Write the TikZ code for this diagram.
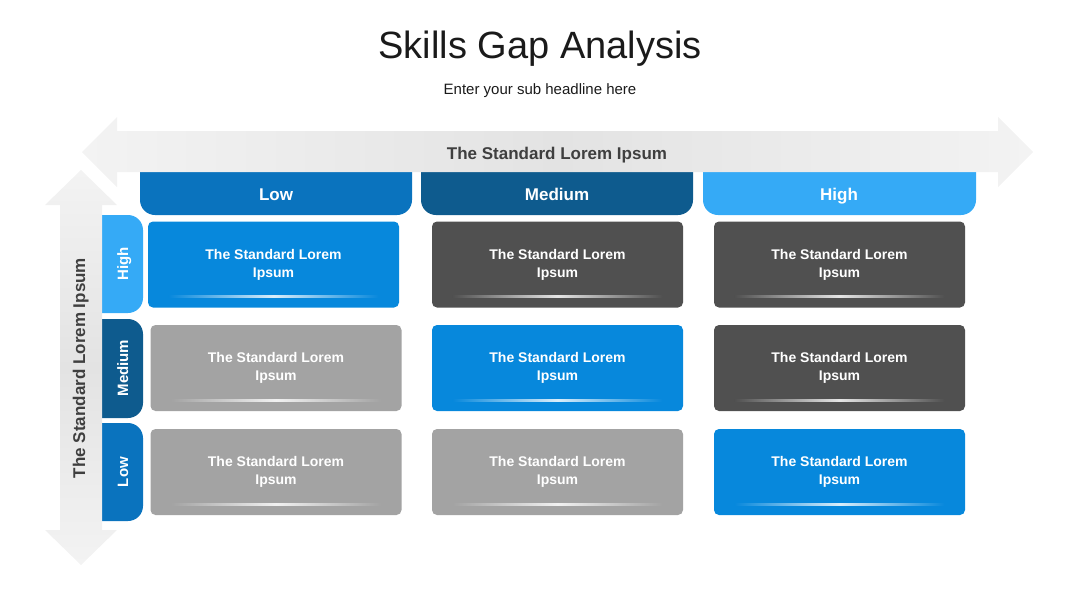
\documentclass[tikz,border=0pt]{standalone}
\usepackage{fontspec}
\setmainfont{Liberation Sans}
\usepackage{xcolor}
\usepackage{tikz}
\usetikzlibrary{shadings}

\definecolor{lowblue}{HTML}{0A73BE}
\definecolor{medblue}{HTML}{0E5B8E}
\definecolor{highblue}{HTML}{35AAF6}
\definecolor{cellblue}{HTML}{0788DC}
\definecolor{darkcell}{HTML}{505050}
\definecolor{lightcell}{HTML}{A3A3A3}
\definecolor{arrowlight}{HTML}{F3F3F3}
\definecolor{arrowdark}{HTML}{E3E3E3}
\definecolor{titlegray}{HTML}{1A1A1A}
\definecolor{axisgray}{HTML}{3F3F3F}

\begin{document}
\begin{tikzpicture}[
    x=1pt, y=-1pt,
    cell/.style={rounded corners=5pt, minimum width=251pt, minimum height=86pt, inner sep=0pt, align=center, text=white, font=\fontsize{14}{18}\selectfont\bfseries},
    hdr/.style={text=white, anchor=base, font=\fontsize{17}{20}\selectfont\bfseries},
    tab/.style={text=white, rotate=90, text height=11pt, text depth=3pt, font=\fontsize{15}{18}\selectfont\bfseries},
    axis/.style={text=axisgray, font=\fontsize{17}{20}\selectfont\bfseries},
]
\useasboundingbox (0,0) rectangle (1080,608);

% Title
\node[anchor=base, font=\fontsize{38}{44}\selectfont, text=titlegray] (title) at (540,58) {Skills Gap Analysis};
\node[anchor=base, font=\fontsize{15}{18}\selectfont, text=titlegray] (subtitle) at (540,94) {Enter your sub headline here};

% Column headers (top hidden under the arrow)
\fill[lowblue, rounded corners=15pt] (140,150) rectangle (412,215);
\fill[medblue, rounded corners=15pt] (421,150) rectangle (693,215);
\fill[highblue, rounded corners=15pt] (703,150) rectangle (976,215);

% Horizontal arrow
\shade[left color=arrowlight, right color=arrowlight, middle color=arrowdark]
    (82,152) -- (117,117) -- (117,131) -- (998,131) -- (998,117) -- (1033,152)
    -- (998,187) -- (998,172) -- (117,172) -- (117,187) -- cycle;

% Row tabs (left side hidden under the arrow)
\fill[highblue, rounded corners=15pt] (80,215) rectangle (143,313);
\fill[medblue, rounded corners=15pt] (80,319) rectangle (143,418);
\fill[lowblue, rounded corners=15pt] (80,423) rectangle (143,521);

% Vertical arrow
\shade[top color=arrowlight, bottom color=arrowlight, middle color=arrowdark]
    (81,170) -- (117,205) -- (102,205) -- (102,530) -- (117,530) -- (81,565)
    -- (45,530) -- (60,530) -- (60,205) -- (45,205) -- cycle;

% Axis labels
\node[axis, anchor=base] (xaxis) at (557,159) {The Standard Lorem Ipsum};
\node[axis, rotate=90, text height=12pt, text depth=4pt] (yaxis) at (81,368) {The Standard Lorem Ipsum};

% Header labels
\node[hdr] (hlow) at (276,200) {Low};
\node[hdr] (hmed) at (557,200) {Medium};
\node[hdr] (hhigh) at (839,200) {High};
\node[tab] (thigh) at (124,264) {High};
\node[tab] (tmed) at (124,368) {Medium};
\node[tab] (tlow) at (124,472) {Low};

% Grid cells
\node[cell, fill=cellblue] (c11) at (273.5,264.5) {The Standard Lorem\\Ipsum};
\node[cell, fill=darkcell] (c12) at (557.5,264.5) {The Standard Lorem\\Ipsum};
\node[cell, fill=darkcell] (c13) at (839.5,264.5) {The Standard Lorem\\Ipsum};
\node[cell, fill=lightcell] (c21) at (276,368) {The Standard Lorem\\Ipsum};
\node[cell, fill=cellblue] (c22) at (557.5,368) {The Standard Lorem\\Ipsum};
\node[cell, fill=darkcell] (c23) at (839.5,368) {The Standard Lorem\\Ipsum};
\node[cell, fill=lightcell] (c31) at (276,472) {The Standard Lorem\\Ipsum};
\node[cell, fill=lightcell] (c32) at (557.5,472) {The Standard Lorem\\Ipsum};
\node[cell, fill=cellblue] (c33) at (839.5,472) {The Standard Lorem\\Ipsum};

% Glow lines under the text
\foreach \n/\c in {c11/cellblue, c12/darkcell, c13/darkcell, c21/lightcell, c22/cellblue, c23/darkcell, c31/lightcell, c32/lightcell, c33/cellblue} {
    \shade[left color=\c, right color=\c, middle color=white!85!\c]
        ([xshift=-105pt, yshift=10pt]\n.south) rectangle ([xshift=105pt, yshift=12pt]\n.south);
}

\end{tikzpicture}
\end{document}
